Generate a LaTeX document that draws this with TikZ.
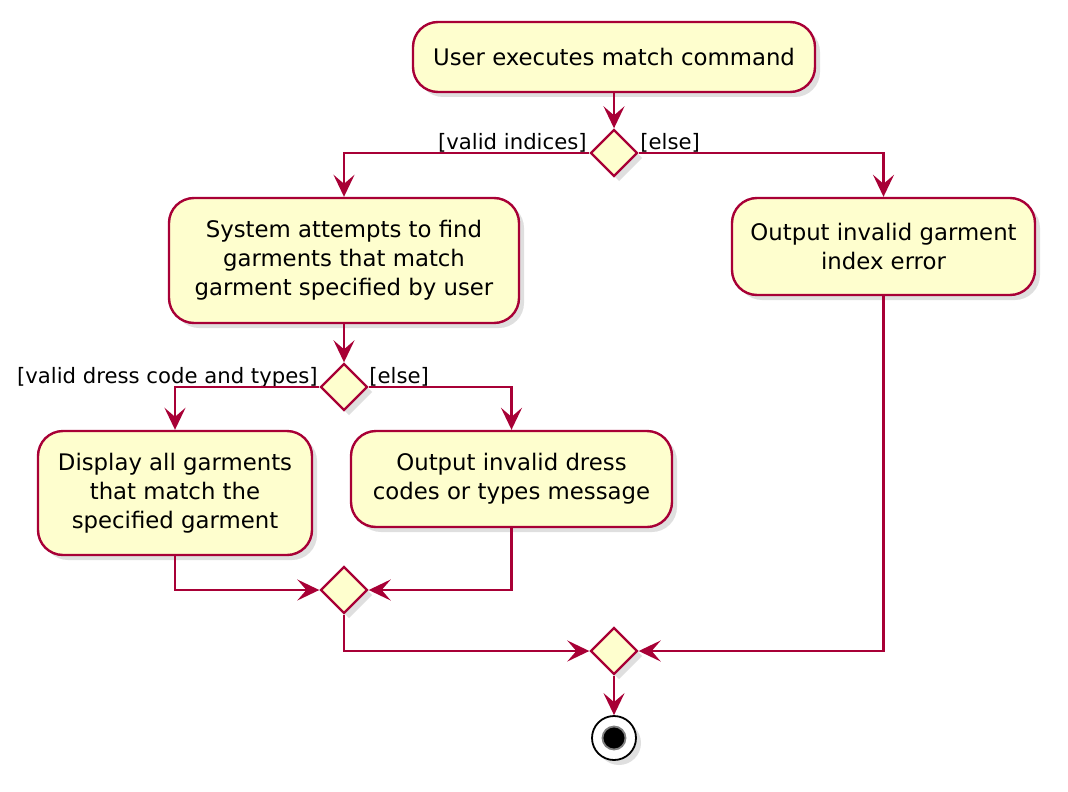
\documentclass[tikz,border=0pt]{standalone}
\usepackage{fontspec}
\setmainfont{DejaVu Sans}
\usepackage{tikz}
\usetikzlibrary{arrows.meta,shapes.geometric,shadows}
\definecolor{UmlBorder}{HTML}{A80036}
\definecolor{UmlFill}{HTML}{FEFECE}
\tikzset{
  action/.style={draw=UmlBorder,fill=UmlFill,line width=1.2pt,rounded corners=12.5pt,
    align=center,inner sep=0pt,font=\fontsize{11.4}{14.4}\selectfont,
    drop shadow={shadow xshift=2.5pt,shadow yshift=-2.5pt,opacity=0.25}},
  choice/.style={diamond,draw=UmlBorder,fill=UmlFill,line width=1.2pt,inner sep=0pt,
    minimum width=23.5pt,minimum height=23.5pt,
    drop shadow={shadow xshift=2.5pt,shadow yshift=-2.5pt,opacity=0.25}},
  flow/.style={draw=UmlBorder,line width=1.2pt,-{Stealth[length=11pt,width=10.5pt,inset=4.5pt]}},
  guard/.style={font=\fontsize{10.6}{13}\selectfont,inner sep=0pt}
}
\begin{document}
\begin{tikzpicture}[x=0.5pt,y=-0.5pt]
  \useasboundingbox (0,0) rectangle (1068,791);
  % actions
  \node[action,minimum width=201pt,minimum height=35pt] (start) at (614,57)
     {User executes match command};
  \node[choice] (chkidx) at (614,153) {};
  \node[action,minimum width=175pt,minimum height=62.5pt] (findbox) at (344,260.5)
     {System attempts to find\\garments that match\\garment specified by user};
  \node[action,minimum width=151.5pt,minimum height=48.5pt] (errbox) at (883.5,246.5)
     {Output invalid garment\\index error};
  \node[choice] (chkcode) at (344,387) {};
  \node[action,minimum width=137pt,minimum height=62pt] (showbox) at (175,493)
     {Display all garments\\that match the\\specified garment};
  \node[action,minimum width=160.5pt,minimum height=48pt] (msgbox) at (511.5,479)
     {Output invalid dress\\codes or types message};
  \node[choice] (mergecode) at (344,590) {};
  \node[choice] (mergeall) at (614,651) {};
  % final node
  \node[circle,draw=black,fill=white,line width=0.9pt,minimum size=22pt,inner sep=0pt,
     drop shadow={shadow xshift=2.5pt,shadow yshift=-2.5pt,opacity=0.25}] (stop) at (614,738) {};
  \node[circle,fill=black,draw=gray,line width=0.9pt,minimum size=11.5pt,inner sep=0pt] (stopdot) at (stop) {};
  % guards
  \node[guard,anchor=base east] (lblidx) at (587,149) {[valid indices]};
  \node[guard,anchor=base west] (lblidxelse) at (640,149) {[else]};
  \node[guard,anchor=base east] (lblcode) at (318,383) {[valid dress code and types]};
  \node[guard,anchor=base west] (lblcodeelse) at (369,383) {[else]};
  % connectors
  \draw[flow] (start) -- (chkidx);
  \draw[flow] (chkidx.west) -| (findbox.north);
  \draw[flow] (chkidx.east) -| (errbox.north);
  \draw[flow] (findbox) -- (chkcode);
  \draw[flow] (chkcode.west) -| (showbox.north);
  \draw[flow] (chkcode.east) -| (msgbox.north);
  \draw[flow] (showbox.south) |- (mergecode.west);
  \draw[flow] (msgbox.south) |- (mergecode.east);
  \draw[flow] (mergecode.south) |- (mergeall.west);
  \draw[flow] (errbox.south) |- (mergeall.east);
  \draw[flow] (mergeall) -- (stop);
\end{tikzpicture}
\end{document}
